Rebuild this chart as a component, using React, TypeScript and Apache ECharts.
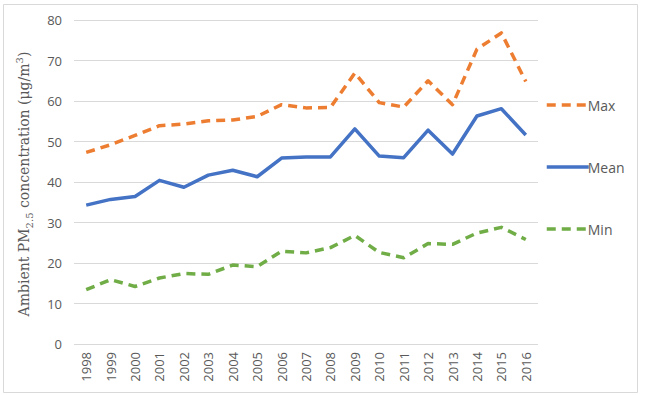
import React, { useEffect, useRef } from "react";
import * as echarts from "echarts";

const years = [
  "1998", "1999", "2000", "2001", "2002", "2003", "2004", "2005", "2006", "2007",
  "2008", "2009", "2010", "2011", "2012", "2013", "2014", "2015", "2016",
];

const maxValues = [
  47.3, 49.2, 51.5, 53.9, 54.3, 55.1, 55.3, 56.2, 59.1, 58.3,
  58.4, 66.9, 59.6, 58.5, 65.0, 59.1, 72.8, 76.8, 64.8,
];

const meanValues = [
  34.3, 35.7, 36.4, 40.4, 38.7, 41.7, 42.9, 41.3, 45.9, 46.2,
  46.2, 53.1, 46.4, 46.0, 52.8, 46.9, 56.3, 58.1, 51.6,
];

const minValues = [
  13.4, 15.9, 14.2, 16.3, 17.4, 17.2, 19.5, 19.1, 22.9, 22.5,
  23.8, 26.8, 22.6, 21.3, 24.8, 24.6, 27.4, 28.8, 25.8,
];

const yTicks = { min: 0, max: 80, interval: 10 };

const SANS = "'Open Sans', 'Liberation Sans', sans-serif";
const SERIF = "'DejaVu Serif', 'Liberation Serif', serif";
const GREY = "#595959";

export default function App() {
  const ref = useRef<HTMLDivElement>(null);

  useEffect(() => {
    if (!ref.current) return;
    const chart = echarts.init(ref.current, undefined, { renderer: "svg" });

    const lineSeries = (name: string, data: number[], color: string, dashed: boolean) => ({
      name,
      type: "line",
      data,
      symbol: "none",
      lineStyle: {
        color,
        width: 3.5,
        type: dashed ? [9, 6] : "solid",
        cap: "butt",
        join: "round",
      },
      itemStyle: { color },
    });

    chart.setOption({
      animation: false,
      backgroundColor: "#ffffff",
      graphic: [
        {
          type: "rect",
          shape: { x: 3.5, y: 4.5, width: 634, height: 388 },
          style: { fill: "none", stroke: "#d9d9d9", lineWidth: 1 },
          silent: true,
        },
      ],
      grid: { left: 74, right: 107, top: 20, bottom: 51 },
      legend: {
        orient: "vertical",
        left: 540,
        top: 93,
        itemWidth: 42,
        itemHeight: 14,
        itemGap: 48,
        data: ["Max", "Mean", "Min"],
        itemStyle: { color: "transparent", borderWidth: 0, opacity: 0 },
        lineStyle: { width: 3.5 },
        textStyle: { fontFamily: SANS, fontSize: 14, color: GREY, padding: [0, 0, 0, -6] },
      },
      xAxis: {
        type: "category",
        data: years,
        boundaryGap: true,
        axisLine: { show: false },
        axisTick: { show: false },
        axisLabel: {
          rotate: 90,
          margin: 8,
          fontFamily: SANS,
          fontSize: 13,
          color: GREY,
        },
      },
      yAxis: {
        type: "value",
        min: yTicks.min,
        max: yTicks.max,
        interval: yTicks.interval,
        axisLine: { show: false },
        axisTick: { show: false },
        splitLine: { lineStyle: { color: "#d9d9d9", width: 1 } },
        axisLabel: { margin: 12, fontFamily: SANS, fontSize: 13, color: GREY },
        name: "Ambient PM{sub|2.5} concentration (μg/m{sup|3})",
        nameLocation: "middle",
        nameGap: 40,
        nameRotate: 90,
        nameTextStyle: {
          fontFamily: SERIF,
          fontSize: 14,
          color: GREY,
          lineHeight: 20,
          padding: [0, 4, 0, 0],
          rich: {
            sub: { fontFamily: SERIF, fontSize: 10, color: GREY, lineHeight: 20, verticalAlign: "bottom" },
            sup: { fontFamily: SERIF, fontSize: 10, color: GREY, lineHeight: 20, verticalAlign: "top" },
          },
        },
      },
      series: [
        lineSeries("Max", maxValues, "#ED7D31", true),
        lineSeries("Mean", meanValues, "#4472C4", false),
        lineSeries("Min", minValues, "#70AD47", true),
      ],
    });

    return () => chart.dispose();
  }, []);

  return (
    <div
      ref={ref}
      style={{ position: "absolute", left: 0, top: 0, width: 645, height: 395 }}
    />
  );
}
